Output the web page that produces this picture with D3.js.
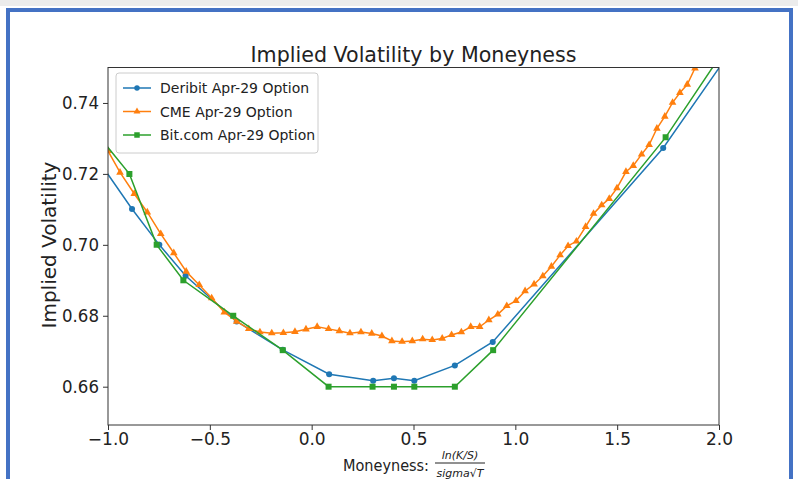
<!DOCTYPE html>
<html>
<head>
<meta charset="utf-8">
<script src="https://cdn.jsdelivr.net/npm/d3@7"></script>
<style>
  body { margin: 0; background: #fff; }
  svg { display: block; font-family: "DejaVu Sans", sans-serif; }
</style>
</head>
<body>
<svg id="chart"></svg>
<script>
// data
var deribitX = [-1.02, -0.882, -0.748, -0.619, -0.368, -0.142, 0.086, 0.302, 0.404, 0.504, 0.703, 0.889, 1.726, 2.02];
var deribitY = [0.7215, 0.7101, 0.7000, 0.6913, 0.6784, 0.6704, 0.6635, 0.6617, 0.6624, 0.6617, 0.6660, 0.6726, 0.7273, 0.7515];

var cmeX = [-1.0, -0.941, -0.871, -0.807, -0.741, -0.677, -0.616, -0.552, -0.491, -0.429, -0.368, -0.309, -0.254, -0.196, -0.139, -0.082, -0.028, 0.027, 0.083, 0.136, 0.188, 0.242, 0.295, 0.345, 0.394, 0.444, 0.494, 0.545, 0.592, 0.641, 0.687, 0.735, 0.781, 0.825, 0.870, 0.914, 0.958, 1.003, 1.048, 1.092, 1.135, 1.177, 1.220, 1.259, 1.300, 1.345, 1.384, 1.424, 1.461, 1.499, 1.543, 1.579, 1.620, 1.657, 1.695, 1.734, 1.772, 1.808, 1.844, 1.882, 1.92];
var cmeY = [0.7265, 0.7204, 0.7144, 0.7092, 0.7031, 0.6977, 0.6925, 0.6887, 0.6850, 0.6810, 0.6784, 0.6763, 0.6754, 0.6751, 0.6752, 0.6755, 0.6762, 0.6769, 0.6763, 0.6757, 0.6751, 0.6754, 0.6750, 0.6743, 0.6729, 0.6727, 0.6729, 0.6734, 0.6732, 0.6736, 0.6746, 0.6754, 0.6769, 0.6769, 0.6788, 0.6804, 0.6828, 0.6842, 0.6870, 0.6889, 0.6912, 0.6939, 0.6971, 0.6997, 0.7010, 0.7051, 0.7088, 0.7112, 0.7130, 0.7160, 0.7206, 0.7223, 0.7255, 0.7282, 0.7328, 0.7362, 0.7401, 0.7429, 0.7452, 0.7498, 0.7540];

var bitcomX = [-1.05, -0.895, -0.761, -0.630, -0.385, -0.142, 0.083, 0.299, 0.404, 0.504, 0.703, 0.891, 1.738, 2.05];
var bitcomY = [0.7310, 0.7200, 0.7000, 0.6900, 0.6800, 0.6703, 0.6600, 0.6600, 0.6600, 0.6600, 0.6600, 0.6703, 0.7303, 0.7570];

var seriesNames = ["Deribit Apr-29 Option", "CME Apr-29 Option", "Bit.com Apr-29 Option"];
var seriesColors = ["#1f77b4", "#ff7f0e", "#2ca02c"];
var seriesMarkers = ["circle", "triangle", "square"];
var xTicks = [-1.0, -0.5, 0.0, 0.5, 1.0, 1.5, 2.0];
var yTicks = [0.66, 0.68, 0.70, 0.72, 0.74];

var svgWidth = 798, svgHeight = 479;
var plotLeft = 108, plotRight = 719, plotTop = 67.5, plotBottom = 425;

var svg = d3.select("#chart")
    .attr("width", svgWidth)
    .attr("height", svgHeight);

// blue frame of the screenshot
svg.append("rect").attr("x", 0).attr("y", 0).attr("width", svgWidth).attr("height", 6).style("fill", "#ececec");
svg.append("path")
    .attr("d", "M8,479 L8,10 L791,10 L791,479")
    .style("fill", "none")
    .style("stroke", "#4472c4")
    .style("stroke-width", 4);

var x = d3.scaleLinear().domain([-1, 2]).range([plotLeft, plotRight]);
var y = d3.scaleLinear().domain([0.6492, 0.75]).range([plotBottom, plotTop]);

svg.append("defs").append("clipPath").attr("id", "plotclip")
    .append("rect")
    .attr("x", plotLeft).attr("y", plotTop)
    .attr("width", plotRight - plotLeft).attr("height", plotBottom - plotTop);

// axes
var xAxis = d3.axisBottom(x).tickValues(xTicks).tickSize(5).tickPadding(3)
    .tickFormat(function(d) { return d3.format(".1f")(d).replace("-", "\u2212"); });
var yAxis = d3.axisLeft(y).tickValues(yTicks).tickSize(5).tickPadding(4)
    .tickFormat(d3.format(".2f"));

var gx = svg.append("g").attr("transform", "translate(0," + plotBottom + ")").call(xAxis);
var gy = svg.append("g").attr("transform", "translate(" + plotLeft + ",0)").call(yAxis);
[gx, gy].forEach(function(g) {
    g.select(".domain").remove();
    g.selectAll(".tick line").style("stroke", "#333");
    g.selectAll(".tick text").style("font-size", "17px").style("fill", "#222")
        .style("font-family", "DejaVu Sans");
});
gy.selectAll(".tick text").attr("textLength", 37).attr("lengthAdjust", "spacingAndGlyphs");

var plot = svg.append("g").attr("clip-path", "url(#plotclip)");

var allX = [deribitX, cmeX, bitcomX];
var allY = [deribitY, cmeY, bitcomY];

var line = d3.line().x(function(d) { return x(d[0]); }).y(function(d) { return y(d[1]); });

function markerPath(kind, size) {
    if (kind === "circle") return d3.symbol().type(d3.symbolCircle).size(size * 0.8)();
    if (kind === "triangle") return d3.symbol().type(d3.symbolTriangle).size(size * 0.7)();
    return d3.symbol().type(d3.symbolSquare).size(size)();
}

for (var s = 0; s < 3; s++) {
    var pts = allX[s].map(function(v, i) { return [v, allY[s][i]]; });
    plot.append("path")
        .datum(pts)
        .attr("d", line)
        .style("fill", "none")
        .style("stroke", seriesColors[s])
        .style("stroke-width", 1.5);
    plot.selectAll(".m" + s)
        .data(pts)
        .enter()
        .append("path")
        .attr("class", "m" + s)
        .attr("d", markerPath(seriesMarkers[s], 36))
        .attr("transform", function(d) { return "translate(" + x(d[0]) + "," + y(d[1]) + ")"; })
        .style("fill", seriesColors[s]);
}

// frame
svg.append("rect")
    .attr("x", plotLeft).attr("y", plotTop)
    .attr("width", plotRight - plotLeft).attr("height", plotBottom - plotTop)
    .style("fill", "none").style("stroke", "#333").style("stroke-width", 1);

// legend
var legend = svg.append("g").attr("transform", "translate(116,73)");
legend.append("rect")
    .attr("width", 202).attr("height", 80).attr("rx", 3)
    .style("fill", "#fff").style("fill-opacity", 0.8)
    .style("stroke", "#ccc").style("stroke-width", 1);
seriesNames.forEach(function(name, i) {
    var row = legend.append("g").attr("transform", "translate(0," + (15 + i * 23.5) + ")");
    row.append("line").attr("x1", 7).attr("x2", 35).attr("y1", 0).attr("y2", 0)
        .style("stroke", seriesColors[i]).style("stroke-width", 1.5);
    row.append("path").attr("d", markerPath(seriesMarkers[i], 30))
        .attr("transform", "translate(21,0)")
        .style("fill", seriesColors[i]);
    row.append("text").text(name)
        .attr("x", 44).attr("y", 5)
        .style("font-size", "14px").style("fill", "#222");
});

// title
svg.append("text").text("Implied Volatility by Moneyness")
    .attr("x", (plotLeft + plotRight) / 2).attr("y", 62)
    .attr("text-anchor", "middle")
    .attr("textLength", 326).attr("lengthAdjust", "spacingAndGlyphs")
    .style("font-size", "22px").style("fill", "#222");

// y label
svg.append("text").text("Implied Volatility")
    .attr("text-anchor", "middle")
    .attr("transform", "translate(56,245)rotate(-90)")
    .style("font-size", "20px").style("fill", "#222");

// x label with fraction
var xl = svg.append("g").attr("transform", "translate(343,471)");
xl.append("text").text("Moneyness:")
    .attr("x", 0).attr("y", 0)
    .attr("textLength", 86).attr("lengthAdjust", "spacingAndGlyphs")
    .style("font-size", "16px").style("fill", "#222");
xl.append("text").text("ln(K/S)")
    .attr("x", 117).attr("y", -12)
    .attr("text-anchor", "middle")
    .style("font-size", "11px").style("font-style", "italic").style("fill", "#222");
xl.append("line").attr("x1", 92).attr("x2", 142).attr("y1", -8).attr("y2", -8)
    .style("stroke", "#222").style("stroke-width", 1);
xl.append("text").text("sigma\u221AT")
    .attr("x", 117).attr("y", 6)
    .attr("text-anchor", "middle")
    .style("font-size", "11px").style("font-style", "italic").style("fill", "#222");
</script>
</body>
</html>
